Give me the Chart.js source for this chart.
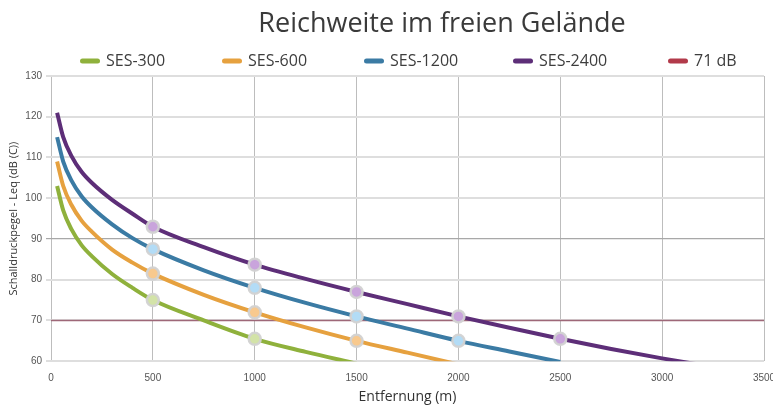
<!DOCTYPE html>
<html>
<head>
<meta charset="utf-8">
<script src="https://cdn.jsdelivr.net/npm/chart.js@4"></script>
<style>
  html, body { margin: 0; padding: 0; background: #fff; }
  #wrap { position: relative; width: 773px; height: 407px; overflow: hidden; }
  #title {
    position: absolute; left: 0; top: 6px; width: 773px; padding-left: 111px; box-sizing: border-box;
    text-align: center; font-family: "Open Sans", sans-serif; font-size: 27px; line-height: 32px; color: #3a3a3a;
  }
</style>
</head>
<body>
<div id="wrap">
  <canvas id="chart" width="773" height="407"></canvas>
  <div id="title">Reichweite im freien Gelände</div>
</div>
<script>
// distances (m) at which the curves were read
const distances = [30, 60, 100, 150, 200, 300, 400, 500, 750, 1000, 1250, 1500, 1750, 2000, 2250, 2500, 2750, 3000, 3250];
// sound level per unit, dB(C)
const ses300 = [103, 97, 92.4, 88.5, 85.8, 81.4, 78, 75, 70, 65.5, 62.3, 59.4];
const ses600 = [109, 103, 98.4, 94.5, 91.8, 87.4, 84.2, 81.5, 76.3, 72, 68.3, 65, 62.1, 59.2];
const ses1200 = [115, 109, 104.4, 100.5, 97.8, 93.6, 90.2, 87.5, 82.3, 78, 74.3, 71, 68, 65, 62.4, 59.8];
const ses2400 = [121, 115, 110.4, 106.5, 103.8, 99.6, 96.2, 93, 88, 83.7, 80.2, 77, 74, 71, 68.2, 65.5, 63, 60.7, 58.6];
// distances that carry a round marker
const marks300 = [500, 1000];
const marks600 = [500, 1000, 1500];
const marks1200 = [500, 1000, 1500, 2000];
const marks2400 = [500, 1000, 1500, 2000, 2500];
// reference level line
const limitX = [0, 3500];
const limitY = [70, 70];

const xTicks = [0, 500, 1000, 1500, 2000, 2500, 3000, 3500];
const yTicks = [60, 70, 80, 90, 100, 110, 120, 130];

function pts(xs, ys) {
    return ys.map((y, i) => ({ x: xs[i], y: y }));
}

function curve(label, values, marks, line, marker) {
    return {
        label: label,
        data: pts(distances, values),
        borderColor: line,
        backgroundColor: line,
        borderWidth: 4,
        cubicInterpolationMode: 'monotone',
        pointRadius: ctx => (ctx.raw && marks.includes(ctx.raw.x)) ? 6 : 0,
        pointHoverRadius: 0,
        pointBackgroundColor: marker,
        pointBorderColor: 'rgba(210,210,210,0.95)',
        pointBorderWidth: 2.5
    };
}

// legend drawn above the plot, item by item
const legendX = [80, 222, 364, 513, 668];
const topLegend = {
    id: 'topLegend',
    afterDraw(chart) {
        const c = chart.ctx;
        c.save();
        c.font = '16px "Open Sans"';
        c.textBaseline = 'middle';
        chart.data.datasets.forEach((ds, i) => {
            const x = legendX[i];
            c.fillStyle = ds.legendColor || ds.borderColor;
            c.beginPath();
            c.roundRect(x, 58.5, 20, 5, 2.5);
            c.fill();
            c.fillStyle = '#3d3d3d';
            c.fillText(ds.label, x + 26, 61);
        });
        c.restore();
    }
};

const tickFont = { family: 'Liberation Sans', size: 10 };

const ctx = document.getElementById('chart').getContext('2d');
new Chart(ctx, {
    type: 'line',
    data: {
        datasets: [
            curve('SES-300', ses300, marks300, '#8fb13c', '#d3e3a8'),
            curve('SES-600', ses600, marks600, '#e6a13f', '#f8c98e'),
            curve('SES-1200', ses1200, marks1200, '#3b7ba4', '#b3dcf6'),
            curve('SES-2400', ses2400, marks2400, '#5d2e78', '#c9a4dc'),
            {
                label: '71 dB',
                data: pts(limitX, limitY),
                borderColor: '#9e6878',
                legendColor: '#b23a4a',
                borderWidth: 1.5,
                pointRadius: 0
            }
        ]
    },
    options: {
        responsive: false,
        animation: false,
        events: [],
        layout: { padding: { top: 76, right: 9, left: 0, bottom: 2 } },
        plugins: {
            tooltip: { enabled: false },
            title: { display: false },
            legend: { display: false }
        },
        scales: {
            x: {
                type: 'linear',
                min: 0,
                max: 3500,
                afterBuildTicks: axis => { axis.ticks = xTicks.map(v => ({ value: v })); },
                afterFit: axis => { axis.paddingRight = 0; },
                grid: { color: '#bdbdbd', lineWidth: 1, drawTicks: false },
                border: { display: false },
                ticks: {
                    color: '#555',
                    padding: 11,
                    maxRotation: 0,
                    font: tickFont,
                    callback: v => String(v)
                },
                title: {
                    display: true,
                    text: 'Entfernung (m)',
                    color: '#333',
                    padding: { top: -7, bottom: 0 },
                    font: { family: 'Open Sans', size: 14 }
                }
            },
            y: {
                min: 60,
                max: 130,
                afterBuildTicks: axis => { axis.ticks = yTicks.map(v => ({ value: v })); },
                afterFit: axis => { axis.width = 51; },
                grid: {
                    color: c => c.tick && c.tick.value === 90 ? '#a8a8a8' : '#dedede',
                    lineWidth: c => c.tick && c.tick.value === 90 ? 1.2 : 2,
                    tickLength: 5,
                    drawTicks: true
                },
                border: { display: false },
                ticks: {
                    color: '#555',
                    padding: 4,
                    font: tickFont,
                    callback: v => String(v)
                },
                title: {
                    display: true,
                    text: 'Schalldruckpegel - Leq (dB (C))',
                    color: '#333',
                    padding: { top: 7, bottom: 4 },
                    font: { family: 'Open Sans', size: 11 }
                }
            }
        }
    },
    plugins: [topLegend]
});
</script>
</body>
</html>
